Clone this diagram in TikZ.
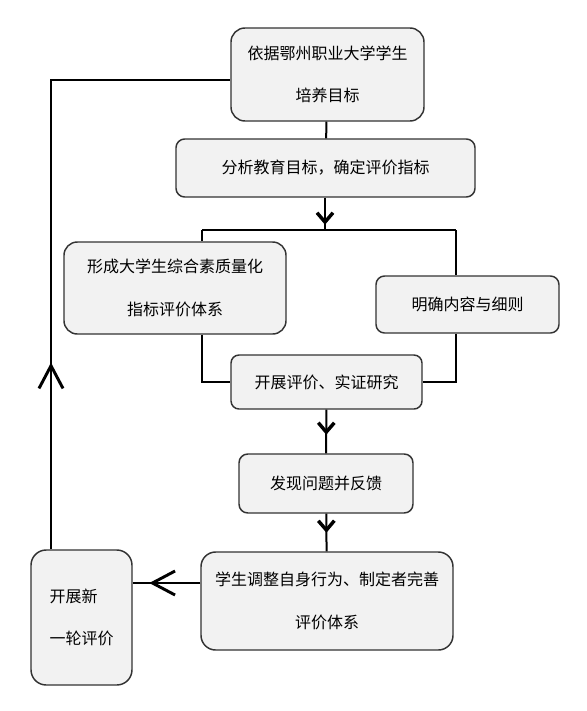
\documentclass[tikz,border=0pt]{standalone}
\usepackage{fontspec}
\newfontfamily\cjk{Noto Sans CJK SC}
\usepackage{tikz}
\usetikzlibrary{arrows.meta, decorations.markings}
\definecolor{boxfill}{HTML}{F2F2F2}
\definecolor{boxline}{HTML}{333333}
\tikzset{
  box/.style={draw=boxline, fill=boxfill, line width=1.1pt, rounded corners=#1,
    inner sep=0pt, align=center, font=\cjk\fontsize{12pt}{32pt}\selectfont},
  lower/.style={execute at begin node={\rule{0pt}{17pt}}},
  link/.style={line width=1.5pt},
  tipat/.style={decoration={markings, mark=at position #1 with
    {\arrow{Straight Barb[length=7pt,width=12pt,line width=2.6pt]}}}, postaction={decorate}},
  bigtipat/.style={decoration={markings, mark=at position #1 with
    {\arrow{Straight Barb[length=17pt,width=18pt,line width=2.2pt]}}}, postaction={decorate}}
}
\begin{document}
\begin{tikzpicture}[x=0.75pt,y=-0.75pt]
\useasboundingbox (0,0) rectangle (586,711);
\node[box=10.5pt, lower, minimum width=144.75pt, minimum height=69.75pt] (goal) at (327.5,74.5) {依据鄂州职业大学学生\\培养目标};
\node[box=6.5pt, minimum width=224.25pt, minimum height=43.5pt] (index) at (325.5,168) {分析教育目标，确定评价指标};
\node[box=10pt, lower, minimum width=166.5pt, minimum height=69pt] (system) at (175,288) {形成大学生综合素质量化\\指标评价体系};
\node[box=6.4pt, minimum width=137.25pt, minimum height=42.75pt] (rules) at (467.5,304.5) {明确内容与细则};
\node[box=6pt, minimum width=143.25pt, minimum height=40.5pt] (study) at (326.5,382) {开展评价、实证研究};
\node[box=6.6pt, minimum width=130.5pt, minimum height=44.25pt] (feedback) at (326,483.5) {发现问题并反馈};
\node[box=11pt, lower, minimum width=189pt, minimum height=73.5pt] (adjust) at (327,601) {学生调整自身行为、制定者完善\\评价体系};
\node[box=11.4pt, minimum width=75.75pt, minimum height=101.25pt, align=left] (again) at (81.5,617.5) {开展新\\一轮评价};

\coordinate (split) at (325,230);
\coordinate (splitL) at (202,230);
\coordinate (splitR) at (456,230);
\coordinate (back) at (201,583);
\coordinate (loop) at (51,80);

\draw[link, tipat=12.75pt] (goal) -- (index);
\draw[link, tipat=20.25pt] (index.south -| split) -- (split);
\draw[link] (splitL) -- (splitR);
\draw[link] (splitL) -- (splitL |- system.north);
\draw[link] (splitR) -- (splitR |- rules.north);
\draw[link] (system.south -| splitL) |- (study.west);
\draw[link] (rules.south -| splitR) |- (study.east);
\draw[link, tipat=18.75pt] (study) -- (feedback);
\draw[link, tipat=14.25pt] (feedback) -- (adjust);
\draw[link, bigtipat=38.25pt] (adjust.west |- back) -- (again.east |- back);
\draw[link, bigtipat=140pt] (again.north -| loop) |- (goal.west |- loop);
\end{tikzpicture}
\end{document}
